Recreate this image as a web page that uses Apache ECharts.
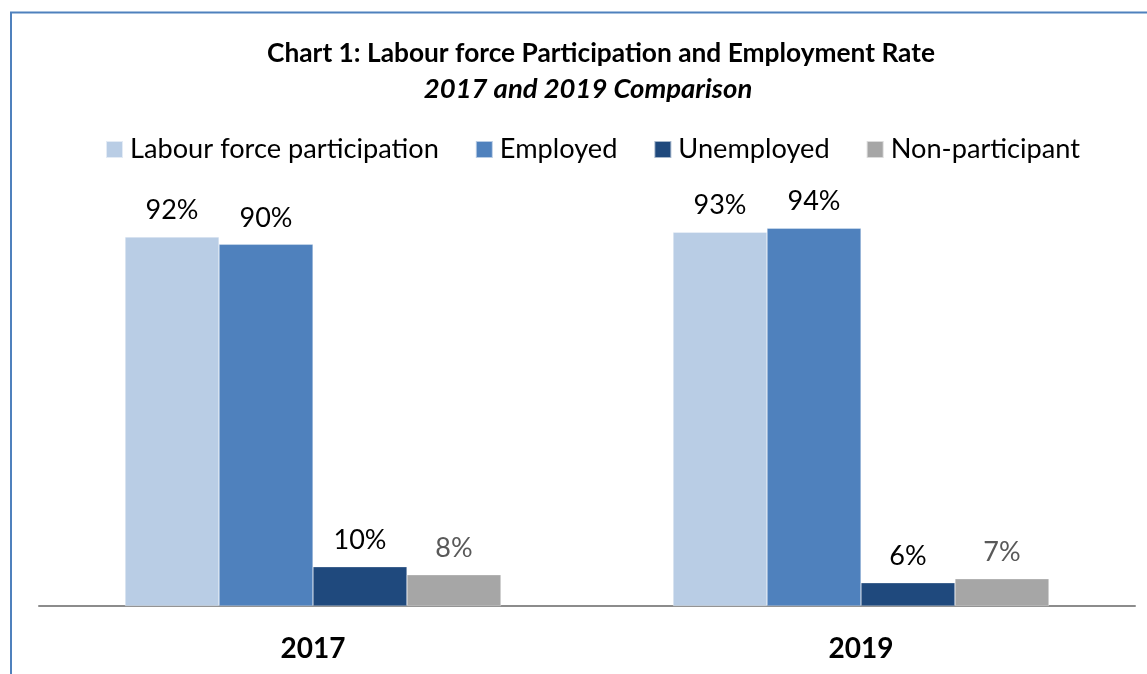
<!DOCTYPE html>
<html>
<head>
<meta charset="utf-8">
<style>
  html, body { margin: 0; padding: 0; background: #fff; }
  #chart { width: 1147px; height: 674px; }
</style>
<script src="https://cdn.jsdelivr.net/npm/echarts@6/dist/echarts.min.js"></script>
</head>
<body>
<div id="chart"></div>
<script>
const categories = ['2017', '2019'];
const seriesNames = ['Labour force participation', 'Employed', 'Unemployed', 'Non-participant'];
const labourForce = [92.0, 93.2];
const employed = [90.2, 94.2];
const unemployed = [9.8, 5.8];
const nonParticipant = [7.8, 6.8];

const colors = ['#B9CDE5', '#4F81BD', '#1F497D', '#A6A6A6'];
const labelColors = ['#000000', '#000000', '#000000', '#595959'];
const values = [labourForce, employed, unemployed, nonParticipant];
const FONT = 'Lato, "Open Sans", sans-serif';

const chart = echarts.init(document.getElementById('chart'));
chart.setOption({
  animation: false,
  backgroundColor: '#ffffff',
  title: [
    {
      text: 'Chart 1: Labour force Participation and Employment Rate',
      left: 596, top: 36, textAlign: 'center',
      textStyle: { fontFamily: FONT, fontSize: 26.3, fontWeight: 'bold', color: '#000' }
    },
    {
      text: '2017 and 2019 Comparison',
      left: 583, top: 71, textAlign: 'center',
      textStyle: { fontFamily: FONT, fontSize: 27.5, fontWeight: 'bold', fontStyle: 'italic', color: '#000' }
    }
  ],
  legend: {
    top: 131,
    left: 100,
    itemWidth: 17,
    itemHeight: 17,
    itemGap: 36,
    icon: 'rect',
    textStyle: { fontFamily: FONT, fontSize: 27.2, color: '#000', padding: [0, 0, 0, 2] },
    data: seriesNames
  },
  grid: { left: 39, right: 12, top: 205, bottom: 68, containLabel: false },
  xAxis: {
    type: 'category',
    data: categories,
    axisLine: { show: true, lineStyle: { color: '#8C8C8C', width: 2 } },
    axisTick: { show: false },
    axisLabel: { margin: 29, fontFamily: FONT, fontSize: 28, fontWeight: 'bold', color: '#000' }
  },
  yAxis: {
    type: 'value', min: 0, max: 100,
    show: false,
    splitLine: { show: false }
  },
  series: seriesNames.map((name, i) => ({
    name: name,
    type: 'bar',
    data: values[i],
    barGap: '0%',
    barCategoryGap: '31.4%',
    itemStyle: { color: colors[i], borderColor: 'rgba(255,255,255,0.6)', borderWidth: 0.5 },
    label: {
      show: true,
      position: 'top',
      distance: 13,
      formatter: p => Math.round(p.value) + '%',
      fontFamily: FONT,
      fontSize: 27,
      color: labelColors[i]
    }
  })),
  graphic: [
    {
      type: 'polyline',
      shape: { points: [[11, 674], [11, 12.5], [1147, 12.5]] },
      style: { stroke: '#4F81BD', lineWidth: 2, fill: null },
      z: 100
    }
  ]
});
</script>
</body>
</html>
